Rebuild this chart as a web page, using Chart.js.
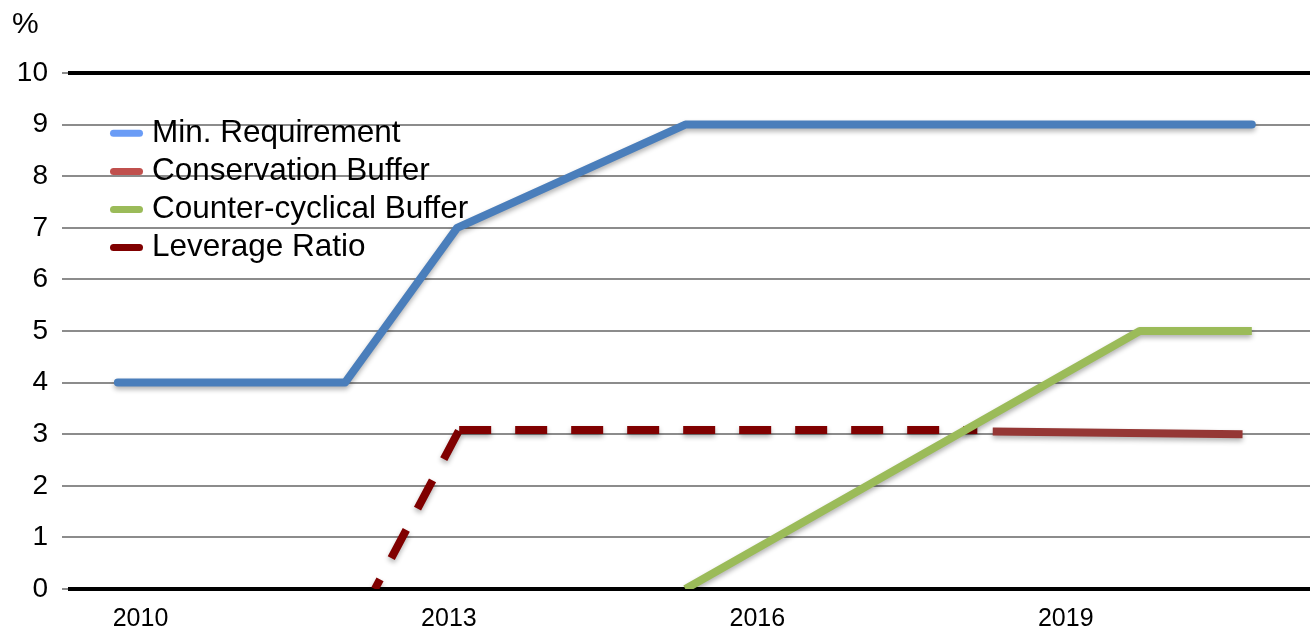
<!DOCTYPE html>
<html><head><meta charset="utf-8">
<script src="https://cdn.jsdelivr.net/npm/chart.js@4"></script>
<style>html,body{margin:0;padding:0;background:#fff;overflow:hidden}#wrap{width:1310px;height:631px;position:relative}</style>
</head><body><div id="wrap"><canvas id="c" width="1310" height="631"></canvas></div>
<script>
// ---- data ----
const xTickYears = [2010, 2013, 2016, 2019];
const yTickValues = [0, 1, 2, 3, 4, 5, 6, 7, 8, 9, 10];
const seriesNames = ['Min. Requirement', 'Conservation Buffer', 'Counter-cyclical Buffer', 'Leverage Ratio'];
const minReqYears = [2009.78, 2011.99, 2013.08, 2015.30, 2020.81];
const minReqValues = [4, 4, 7, 9, 9];
const consYears = [2018.29, 2020.72];
const consValues = [3.05, 3.0];
const counterYears = [2015.30, 2019.72, 2020.81];
const counterValues = [0, 5, 5];
const levYears = [2012.28, 2013.10, 2018.14];
const levValues = [0, 3.08, 3.08];
const unitLabel = '%';

// ---- styling ----
const lineColors = ['#4a7ebb', '#953735', '#9bbb59', '#800000'];
const swatchColors = ['#6a9cf6', '#c0504d', '#9bbb59', '#800000'];
const FONT = '"Liberation Sans", Arial, Helvetica, sans-serif';

function pts(xs, ys) { return xs.map((x, i) => ({ x: x, y: ys[i] })); }

const shadowPlugin = {
  id: 'shadow',
  beforeDatasetDraw(chart) {
    const ctx = chart.ctx; ctx.save();
    ctx.shadowColor = 'rgba(0,0,0,0.3)'; ctx.shadowBlur = 5; ctx.shadowOffsetY = 3;
  },
  afterDatasetDraw(chart) { chart.ctx.restore(); }
};

const overlayPlugin = {
  id: 'overlay',
  afterDraw(chart) {
    const ctx = chart.ctx;
    ctx.save();
    ctx.fillStyle = '#000';
    ctx.textBaseline = 'alphabetic';
    ctx.textAlign = 'left';
    ctx.font = '30px ' + FONT;
    ctx.fillText(unitLabel, 12, 33);
    // in-plot legend
    ctx.font = '31.5px ' + FONT;
    seriesNames.forEach((name, i) => {
      const y = 133.3 + i * 38.1;
      ctx.beginPath();
      ctx.lineWidth = 7; ctx.lineCap = 'round';
      ctx.strokeStyle = swatchColors[i];
      ctx.moveTo(113.5, y); ctx.lineTo(139.5, y); ctx.stroke();
      ctx.fillStyle = '#000';
      ctx.fillText(name, 152, y + 8.8);
    });
    ctx.restore();
  }
};

new Chart(document.getElementById('c'), {
  type: 'line',
  data: {
    datasets: [
      { label: seriesNames[0], data: pts(minReqYears, minReqValues), borderColor: lineColors[0],
        borderWidth: 8, borderCapStyle: 'round', borderJoinStyle: 'round', pointRadius: 0, order: 0, tension: 0 },
      { label: seriesNames[1], data: pts(consYears, consValues), borderColor: lineColors[1],
        borderWidth: 8, borderCapStyle: 'butt', pointRadius: 0, order: 3, tension: 0 },
      { label: seriesNames[2], data: pts(counterYears, counterValues), borderColor: lineColors[2],
        borderWidth: 8, borderCapStyle: 'butt', borderJoinStyle: 'round', pointRadius: 0, order: 1, tension: 0 },
      { label: seriesNames[3], data: pts(levYears, levValues), borderColor: lineColors[3],
        borderWidth: 8, borderDash: [32, 24], borderCapStyle: 'butt', borderJoinStyle: 'miter', pointRadius: 0, order: 2, tension: 0,
        segment: { borderDashOffset: (c) => (c.p0DataIndex === 0 ? 21 : 0) } }
    ]
  },
  options: {
    responsive: false,
    animation: false,
    devicePixelRatio: 1,
    layout: { padding: { top: 73, right: 0, bottom: 0, left: 0 } },
    plugins: { legend: { display: false }, tooltip: { enabled: false } },
    scales: {
      x: {
        type: 'linear', min: 2009.295, max: 2021.376,
        afterBuildTicks: (s) => { s.ticks = xTickYears.map(v => ({ value: v })); },
        afterFit: (s) => { s.height = 42; },
        grid: { display: false, drawTicks: false },
        border: { display: false },
        ticks: { color: '#000', font: { family: FONT, size: 25 }, padding: 15,
                 callback: (v) => String(v), maxRotation: 0, autoSkip: false }
      },
      y: {
        min: 0, max: 10,
        afterBuildTicks: (s) => { s.ticks = yTickValues.map(v => ({ value: v })); },
        afterFit: (s) => { s.width = 68; },
        border: { display: false },
        grid: {
          color: (c) => (c.tick && (c.tick.value === 0 || c.tick.value === 10)) ? '#000' : '#8c8c8c',
          lineWidth: (c) => (c.tick && (c.tick.value === 0 || c.tick.value === 10)) ? 4 : 2,
          tickColor: '#8c8c8c', tickWidth: 2, tickLength: 6, drawTicks: true
        },
        ticks: { color: '#000', font: { family: FONT, size: 28 }, padding: 14, autoSkip: false }
      }
    }
  },
  plugins: [shadowPlugin, overlayPlugin]
});
</script></body></html>
